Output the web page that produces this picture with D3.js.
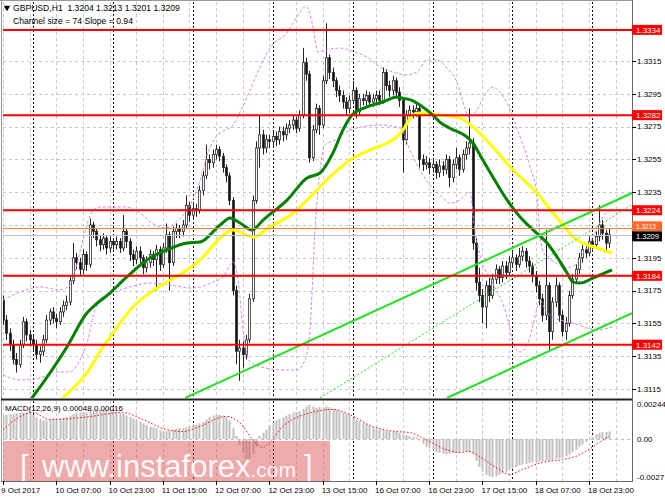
<!DOCTYPE html>
<html><head><meta charset="utf-8">
<script src="https://cdn.jsdelivr.net/npm/d3@7"></script>
<style>html,body{margin:0;padding:0;background:#fff;overflow:hidden}svg{display:block;font-family:"Liberation Sans",Arial,sans-serif}</style>
</head><body><svg id="c" width="665" height="499"></svg>
<script>
// ---------------- DATA ----------------
const symbolTitle = "GBPUSD,H1  1.3204 1.3213 1.3201 1.3209";
const channelTitle = "Channel size = 74 Slope = 0.94";
const macdTitle = "MACD(12,26,9) 0.00048 0.00016";

const opens = [1.3169,1.3157,1.3149,1.3142,1.3133,1.3130,1.3142,1.3156,1.3148,1.3145,
1.3142,1.3136,1.3138,1.3145,1.3157,1.3162,1.3158,1.3156,1.3162,1.3166,
1.3168,1.3181,1.3195,1.3192,1.3188,1.3197,1.3191,1.3215,1.3211,1.3206,
1.3203,1.3207,1.3201,1.3205,1.3203,1.3205,1.3201,1.3211,1.3205,1.3197,
1.3194,1.3199,1.3195,1.3189,1.3192,1.3197,1.3194,1.3200,1.3191,1.3201,
1.3209,1.3192,1.3211,1.3213,1.3211,1.3215,1.3227,1.3221,1.3225,1.3224,
1.3236,1.3245,1.3255,1.3253,1.3258,1.3261,1.3257,1.3250,1.3245,1.3230,
1.3175,1.3138,1.3140,1.3136,1.3145,1.3170,1.3230,1.3262,1.3270,1.3262,
1.3267,1.3266,1.3269,1.3267,1.3272,1.3270,1.3274,1.3276,1.3279,1.3274,
1.3282,1.3314,1.3307,1.3256,1.3273,1.3286,1.3276,1.3303,1.3317,1.3308,
1.3303,1.3297,1.3294,1.3290,1.3286,1.3291,1.3297,1.3284,1.3292,1.3291,
1.3294,1.3290,1.3292,1.3294,1.3291,1.3308,1.3300,1.3297,1.3303,1.3296,
1.3291,1.3267,1.3282,1.3285,1.3284,1.3286,1.3255,1.3252,1.3253,1.3250,
1.3252,1.3247,1.3251,1.3249,1.3255,1.3244,1.3252,1.3256,1.3249,1.3258,
1.3262,1.3265,1.3204,1.3180,1.3172,1.3165,1.3178,1.3172,1.3182,1.3188,
1.3183,1.3190,1.3186,1.3192,1.3195,1.3191,1.3196,1.3199,1.3193,1.3190,
1.3184,1.3178,1.3170,1.3160,1.3178,1.3150,1.3168,1.3178,1.3160,1.3150,
1.3155,1.3172,1.3182,1.3188,1.3195,1.3200,1.3198,1.3205,1.3203,1.3208,
1.3215,1.3210,1.3204];

const highs = [1.3172,1.3160,1.3152,1.3145,1.3137,1.3145,1.3159,1.3158,1.3151,1.3148,
1.3145,1.3141,1.3148,1.3160,1.3164,1.3165,1.3161,1.3165,1.3169,1.3172,
1.3184,1.3204,1.3198,1.3195,1.3200,1.3199,1.3219,1.3217,1.3213,1.3209,
1.3210,1.3209,1.3208,1.3207,1.3208,1.3207,1.3221,1.3213,1.3207,1.3200,
1.3202,1.3202,1.3197,1.3196,1.3200,1.3199,1.3203,1.3202,1.3204,1.3216,
1.3211,1.3214,1.3216,1.3215,1.3218,1.3233,1.3229,1.3228,1.3228,1.3239,
1.3248,1.3264,1.3258,1.3261,1.3264,1.3263,1.3259,1.3252,1.3247,1.3232,
1.3178,1.3145,1.3144,1.3148,1.3173,1.3233,1.3266,1.3282,1.3273,1.3270,
1.3270,1.3272,1.3272,1.3275,1.3275,1.3277,1.3279,1.3282,1.3281,1.3285,
1.3323,1.3317,1.3309,1.3276,1.3289,1.3288,1.3306,1.3338,1.3319,1.3311,
1.3305,1.3300,1.3297,1.3293,1.3294,1.3303,1.3299,1.3295,1.3295,1.3297,
1.3296,1.3295,1.3297,1.3297,1.3311,1.3310,1.3303,1.3306,1.3305,1.3299,
1.3293,1.3285,1.3288,1.3288,1.3289,1.3288,1.3258,1.3257,1.3256,1.3256,
1.3254,1.3255,1.3254,1.3258,1.3257,1.3255,1.3262,1.3258,1.3261,1.3266,
1.3286,1.3268,1.3207,1.3189,1.3176,1.3181,1.3183,1.3185,1.3191,1.3190,
1.3193,1.3193,1.3196,1.3199,1.3197,1.3201,1.3202,1.3201,1.3196,1.3192,
1.3187,1.3181,1.3173,1.3212,1.3180,1.3171,1.3183,1.3180,1.3163,1.3159,
1.3175,1.3185,1.3191,1.3198,1.3203,1.3203,1.3208,1.3207,1.3211,1.3227,
1.3218,1.3212,1.3213];

const lows = [1.3154,1.3145,1.3138,1.3130,1.3125,1.3128,1.3140,1.3144,1.3141,1.3138,
1.3133,1.3131,1.3135,1.3143,1.3154,1.3155,1.3152,1.3154,1.3159,1.3163,
1.3166,1.3179,1.3188,1.3184,1.3185,1.3187,1.3189,1.3207,1.3202,1.3199,
1.3200,1.3197,1.3198,1.3200,1.3200,1.3198,1.3199,1.3201,1.3193,1.3190,
1.3191,1.3191,1.3185,1.3186,1.3189,1.3190,1.3175,1.3187,1.3189,1.3198,
1.3175,1.3190,1.3207,1.3207,1.3208,1.3213,1.3217,1.3218,1.3220,1.3222,
1.3233,1.3243,1.3249,1.3250,1.3255,1.3254,1.3247,1.3241,1.3227,1.3172,
1.3130,1.3120,1.3128,1.3133,1.3143,1.3168,1.3228,1.3250,1.3258,1.3259,
1.3262,1.3263,1.3263,1.3264,1.3266,1.3267,1.3271,1.3273,1.3271,1.3272,
1.3280,1.3303,1.3253,1.3254,1.3271,1.3270,1.3274,1.3301,1.3304,1.3299,
1.3293,1.3290,1.3286,1.3282,1.3283,1.3289,1.3280,1.3282,1.3288,1.3288,
1.3287,1.3287,1.3289,1.3288,1.3289,1.3297,1.3293,1.3294,1.3292,1.3287,
1.3247,1.3264,1.3279,1.3280,1.3281,1.3250,1.3248,1.3249,1.3246,1.3247,
1.3243,1.3244,1.3245,1.3246,1.3238,1.3241,1.3249,1.3245,1.3247,1.3255,
1.3258,1.3200,1.3175,1.3168,1.3155,1.3152,1.3168,1.3170,1.3179,1.3179,
1.3180,1.3182,1.3184,1.3189,1.3187,1.3189,1.3193,1.3189,1.3186,1.3180,
1.3174,1.3166,1.3156,1.3157,1.3139,1.3145,1.3165,1.3156,1.3147,1.3145,
1.3153,1.3170,1.3179,1.3185,1.3192,1.3195,1.3196,1.3200,1.3201,1.3205,
1.3206,1.3198,1.3201];

const closes = [1.3157,1.3149,1.3142,1.3133,1.3130,1.3142,1.3156,1.3148,1.3145,1.3142,
1.3136,1.3138,1.3145,1.3157,1.3162,1.3158,1.3156,1.3162,1.3166,1.3168,
1.3181,1.3195,1.3192,1.3188,1.3197,1.3191,1.3215,1.3211,1.3206,1.3203,
1.3207,1.3201,1.3205,1.3203,1.3205,1.3201,1.3211,1.3205,1.3197,1.3194,
1.3199,1.3195,1.3189,1.3192,1.3197,1.3194,1.3200,1.3191,1.3201,1.3209,
1.3192,1.3211,1.3213,1.3211,1.3215,1.3227,1.3221,1.3225,1.3224,1.3236,
1.3245,1.3255,1.3253,1.3258,1.3261,1.3257,1.3250,1.3245,1.3230,1.3175,
1.3138,1.3140,1.3136,1.3145,1.3170,1.3230,1.3262,1.3270,1.3262,1.3267,
1.3266,1.3269,1.3267,1.3272,1.3270,1.3274,1.3276,1.3279,1.3274,1.3282,
1.3314,1.3307,1.3256,1.3273,1.3286,1.3276,1.3303,1.3317,1.3308,1.3303,
1.3297,1.3294,1.3290,1.3286,1.3291,1.3297,1.3284,1.3292,1.3291,1.3294,
1.3290,1.3292,1.3294,1.3291,1.3308,1.3300,1.3297,1.3303,1.3296,1.3291,
1.3267,1.3282,1.3285,1.3284,1.3286,1.3255,1.3252,1.3253,1.3250,1.3252,
1.3247,1.3251,1.3249,1.3255,1.3244,1.3252,1.3256,1.3249,1.3258,1.3262,
1.3265,1.3204,1.3180,1.3172,1.3165,1.3178,1.3172,1.3182,1.3188,1.3183,
1.3190,1.3186,1.3192,1.3195,1.3191,1.3196,1.3199,1.3193,1.3190,1.3184,
1.3178,1.3170,1.3160,1.3178,1.3150,1.3168,1.3178,1.3160,1.3150,1.3155,
1.3172,1.3182,1.3188,1.3195,1.3200,1.3198,1.3205,1.3203,1.3208,1.3215,
1.3210,1.3204,1.3209];

// moving averages / bands, as [bar index, price]
const maGreen = [[5.1,1.3100],[8.7,1.31095],[19.2,1.31406],[25.2,1.31613],[27,1.31650],[32.1,1.31735],[37.2,1.31833],[43.2,1.31937],[49.2,1.31998],[55.3,1.32040],[59.2,1.32046],[65.2,1.32150],[68.2,1.32193],[71.2,1.32162],[74.8,1.32120],[78.1,1.32180],[85.3,1.32302],[91.3,1.32437],[95.2,1.32467],[99.1,1.32590],[102.1,1.32730],[104.8,1.32821],[109.3,1.32870],[114.1,1.32900],[118.3,1.32930],[119.8,1.32924],[122.8,1.32910],[125.2,1.32882],[129.1,1.32820],[131.2,1.32778],[134.2,1.32740],[139.3,1.32687],[141.1,1.32650],[144.1,1.32546],[147.1,1.32443],[151.4,1.32302],[155.3,1.32199],[159.2,1.32120],[163.4,1.32040],[166.4,1.31955],[169.4,1.31857],[171.2,1.31802],[173.3,1.31796],[177.2,1.31827],[181.3,1.31863],[182.9,1.31876]];
const maYellow = [[14.1,1.31016],[18,1.31095],[25.2,1.31248],[30,1.31406],[33,1.31491],[39,1.31650],[44.1,1.31735],[50.2,1.31815],[55.3,1.31876],[59.2,1.31937],[65.2,1.32071],[69.1,1.32120],[75.1,1.32077],[80.2,1.32138],[88.3,1.32241],[91.3,1.32302],[98.2,1.32443],[104.2,1.32546],[110.2,1.32607],[115.3,1.32650],[118.3,1.32687],[120.1,1.32729],[123.1,1.32821],[125.2,1.32833],[131.2,1.32821],[137.2,1.32802],[141.1,1.32748],[147.1,1.32626],[153.2,1.32485],[160.4,1.32345],[165.2,1.32223],[168.2,1.32150],[171.2,1.32077],[174.2,1.32040],[178.4,1.32010],[182.9,1.31979]];
const bandUpper = [[0,1.31693],[5.1,1.31741],[11.1,1.31772],[17.1,1.31754],[20.1,1.31784],[22.5,1.31937],[24.6,1.32107],[26.7,1.32229],[29.1,1.32260],[36.6,1.32260],[41.1,1.32223],[45.6,1.32150],[48.6,1.32132],[52.6,1.32180],[56.2,1.32272],[59.2,1.32424],[61.3,1.32577],[63.7,1.32680],[66.7,1.32729],[69.1,1.32760],[71.2,1.32839],[74.2,1.32973],[77.2,1.33113],[80.8,1.33248],[84.7,1.33309],[88.3,1.33418],[91,1.33485],[92.8,1.33388],[94.6,1.33205],[96.7,1.33217],[101.2,1.33229],[105.7,1.33205],[109.3,1.33174],[113.2,1.33113],[117.1,1.33083],[121.3,1.33065],[124.3,1.33083],[127.3,1.33156],[130.3,1.33156],[133.3,1.33107],[136.3,1.33022],[138.7,1.32863],[140.2,1.32802],[142.3,1.32851],[144.7,1.32943],[147.1,1.32991],[149.2,1.32960],[151.4,1.32894],[155.3,1.32687],[158.3,1.32504],[160.4,1.32321],[161.3,1.32077],[162.8,1.31967],[165.8,1.31924],[168.8,1.31888],[171.8,1.31906],[174.8,1.31998],[177.2,1.32077],[180.2,1.32199],[182.9,1.32254]];
const bandLower = [[0,1.31235],[5.1,1.31205],[11.1,1.31217],[15.6,1.31254],[20.1,1.31254],[23.1,1.31327],[25.5,1.31449],[27.6,1.31632],[30.6,1.31705],[33.6,1.31741],[38.1,1.31772],[44.1,1.31796],[50.2,1.31784],[56.2,1.31766],[59.2,1.31772],[63.1,1.31802],[66.1,1.31833],[69.1,1.31924],[70.6,1.31815],[72.1,1.31510],[74.2,1.31315],[78.7,1.31278],[84.7,1.31266],[88.3,1.31266],[90.7,1.31327],[92.2,1.31510],[93.7,1.32120],[95.2,1.32485],[96.7,1.32638],[99.7,1.32668],[104.2,1.32729],[113.2,1.32760],[119.2,1.32741],[122.2,1.32607],[125.2,1.32485],[128.2,1.32394],[131.2,1.32333],[134.2,1.32284],[137.2,1.32302],[140.2,1.32351],[141.7,1.32120],[143.2,1.31967],[147.1,1.31796],[151.4,1.31589],[153.2,1.31430],[155.3,1.31376],[157.4,1.31418],[159.2,1.31540],[161.3,1.31693],[162.8,1.31632],[165.8,1.31583],[171.2,1.31552],[178.4,1.31510],[182.9,1.31528]];

// regression channel (start / end as [bar, price])
const channelUpper = [[54.7,1.31095],[188.9,1.32345]];
const channelMiddle = [[95.2,1.31095],[188.9,1.32273]];
const channelLower = [[133.3,1.31095],[188.9,1.31613]];

const levels = [1.3334, 1.3282, 1.3224, 1.3184, 1.3142];
const askPrice = 1.3213, bidPrice = 1.3209;
const priceTicks = [1.3115,1.3135,1.3155,1.3175,1.3195,1.3215,1.3235,1.3255,1.3275,1.3295,1.3315];

const timeLabels = ["9 Oct 2017","10 Oct 07:00","10 Oct 23:00","11 Oct 15:00","12 Oct 07:00","12 Oct 23:00","13 Oct 15:00","16 Oct 07:00","16 Oct 23:00","17 Oct 15:00","18 Oct 07:00","18 Oct 23:00"];
const timeLabelBars = [0,16,32,48,64,80,96,112,128,144,160,176];
const daySeparatorBars = [9,33,57,81,105,129,153,177];

const macdHist = [0.0015,0.00155,0.0016,0.0016,0.00165,0.0017,
0.0017,0.0017,0.00165,0.00155,
0.0014,0.0013,0.0012,0.0012,0.00125,
0.0013,0.0013,0.0013,0.00135,0.0014,
0.0015,0.0016,0.0017,0.0017,0.00175,0.0017,0.0018,0.0019,0.0019,0.00185,0.0019,0.0019,0.00185,
0.0018,0.0017,0.00165,0.0016,0.0015,0.0014,0.0013,
0.0012,0.0011,0.0010,0.0009,0.0008,0.00075,0.0007,0.00055,0.0005,0.0005,
0.00055,0.0006,0.00065,0.0007,0.0007,0.00075,
0.0008,0.00085,0.0009,0.0010,0.0011,0.00125,
0.0014,0.0015,0.00155,0.00155,0.0015,0.0014,0.0012,
0.0007,0.0002,-0.0004,-0.0009,-0.0013,-0.0013,-0.0010,-0.0005,0.0002,0.0004,0.0006,
0.0009,0.0011,0.0012,0.0013,0.0014,0.0015,
0.0016,0.0017,0.00175,0.0018,0.00195,0.0021,0.0022,
0.0021,0.0020,0.00205,0.0020,0.0021,0.00205,
0.00195,0.0019,0.0018,0.0017,0.0016,0.0015,
0.00135,0.00125,0.00115,0.00105,0.00095,0.00085,0.00075,0.00065,0.0006,
0.00055,0.0005,0.0005,0.00045,0.00045,0.0004,
0.0003,0.00025,0.0002,0.00015,0.0001,
-0.0001,-0.0003,-0.0005,-0.0006,
-0.00075,-0.00085,-0.0009,-0.00095,-0.0010,-0.00095,
-0.0009,-0.0009,-0.00085,-0.0008,-0.0008,-0.00085,-0.0010,-0.0014,
-0.0018,-0.0021,-0.0023,-0.0024,-0.00245,-0.0024,
-0.0023,-0.0022,-0.0021,-0.0020,-0.0019,-0.0018,-0.0017,
-0.00165,-0.0016,-0.00155,-0.0015,-0.0015,-0.00145,-0.00145,-0.0014,
-0.0014,-0.00135,-0.0013,-0.00125,-0.0012,-0.0011,-0.0010,
-0.00085,-0.0007,-0.0005,-0.00035,-0.0002,
0.00005,0.00015,0.0003,0.0004,0.00045,0.00045,0.00048];
const macdSignal = [[0,0.00061],[9,0.0017],[14,0.00125],[24,0.00138],[36,0.0017],[42,0.00125],[49,0.00061],[54,0.00048],[59,0.0008],[67,0.00145],[71,0.00106],[75,-0.00003],[78,-0.00055],[80,-0.00022],[84,0.0008],[89,0.00145],[94,0.00177],[99,0.0019],[104,0.00157],[111,0.0008],[118,0.00048],[122,0.00042],[127,-0.00003],[133,-0.00067],[137,-0.00087],[140,-0.0008],[143,-0.00112],[149,-0.00196],[152,-0.00228],[156,-0.00196],[162,-0.00151],[168,-0.00132],[172,-0.00112],[176,-0.00067],[179,-0.00022],[182,0.00016]];
const macdTicks = [0.00244, 0, -0.0027];
const macdTickLabels = ["0.00244", "0.00", "-0.0027"];

// ---------------- LAYOUT ----------------
const L = 3, R = 632, mainTop = 2, mainBot = 398, macdTop = 401, macdBot = 481;
const svg = d3.select('#c');
const x = d3.scaleLinear().domain([0, 188.9]).range([L, R]);
const y = d3.scaleLinear().domain([1.31095, 1.33510]).range([mainBot, mainTop]);
const ym = d3.scaleLinear().domain([-0.0027, 0.00244]).range([macdBot, macdTop]);
const px = v => Math.round(v) + 0.5;

const defs = svg.append('defs');
defs.append('clipPath').attr('id','cm').append('rect').attr('x',L).attr('y',mainTop).attr('width',R-L).attr('height',mainBot-mainTop);
defs.append('clipPath').attr('id','cd').append('rect').attr('x',L).attr('y',macdTop).attr('width',R-L).attr('height',macdBot-macdTop);

svg.append('rect').attr('width',665).attr('height',499).attr('fill','#fff');

// grid
const grid = svg.append('g');
const gridBars = d3.range(0, 189, 8);
[[mainTop,mainBot],[macdTop,macdBot]].forEach(([t,b]) => {
  grid.selectAll(null).data(gridBars).join('line')
    .attr('x1',d=>px(x(d))).attr('x2',d=>px(x(d))).attr('y1',t).attr('y2',b)
    .attr('stroke','#c8c8c8').attr('stroke-dasharray','3,3');
});
grid.selectAll(null).data(priceTicks).join('line')
  .attr('x1',L).attr('x2',R).attr('y1',d=>px(y(d))).attr('y2',d=>px(y(d)))
  .attr('stroke','#c8c8c8').attr('stroke-dasharray','3,3');
grid.append('line').attr('x1',L).attr('x2',R).attr('y1',px(ym(0))).attr('y2',px(ym(0)))
  .attr('stroke','#c0c0c0').attr('stroke-dasharray','3,3');
[[mainTop,mainBot],[macdTop,macdBot]].forEach(([t,b]) => {
  grid.selectAll(null).data(daySeparatorBars).join('line')
    .attr('x1',d=>px(x(d))).attr('x2',d=>px(x(d))).attr('y1',t).attr('y2',b)
    .attr('stroke','#111').attr('stroke-dasharray','2,2');
});

// ---- main panel
const main = svg.append('g').attr('clip-path','url(#cm)');
const bars = closes.map((c,i)=>({i, o:opens[i], h:highs[i], l:lows[i], c}));
main.selectAll('line.wick').data(bars).join('line').attr('class','wick')
  .attr('x1',d=>Math.round(x(d.i))+0.5).attr('x2',d=>Math.round(x(d.i))+0.5)
  .attr('y1',d=>y(d.h)).attr('y2',d=>y(d.l)).attr('stroke','#222').attr('stroke-width',1);
main.selectAll('rect.body').data(bars).join('rect').attr('class','body')
  .attr('x',d=>Math.round(x(d.i))-0.6).attr('width',2.2)
  .attr('y',d=>y(Math.max(d.o,d.c)))
  .attr('height',d=>Math.max(1, Math.abs(y(d.o)-y(d.c))))
  .attr('fill',d=>d.c>=d.o?'#f4f4f4':'#111')
  .attr('stroke','#333').attr('stroke-width',0.8);

const lineFn = d3.line().x(d=>x(d[0])).y(d=>y(d[1])).curve(d3.curveMonotoneX);
main.append('path').datum(bandUpper).attr('d',lineFn).attr('fill','none').attr('stroke','#c58cf0').attr('stroke-width',1).attr('stroke-dasharray','3,2');
main.append('path').datum(bandLower).attr('d',lineFn).attr('fill','none').attr('stroke','#c58cf0').attr('stroke-width',1).attr('stroke-dasharray','3,2');
main.append('path').datum(maYellow).attr('d',lineFn).attr('fill','none').attr('stroke','#ffff00').attr('stroke-width',3);
main.append('path').datum(maGreen).attr('d',lineFn).attr('fill','none').attr('stroke','#008000').attr('stroke-width',3);

const straight = d3.line().x(d=>x(d[0])).y(d=>y(d[1]));
main.append('path').datum(channelUpper).attr('d',straight).attr('stroke','#22e022').attr('stroke-width',2).attr('fill','none');
main.append('path').datum(channelLower).attr('d',straight).attr('stroke','#22e022').attr('stroke-width',2).attr('fill','none');
main.append('path').datum(channelMiddle).attr('d',straight).attr('stroke','#22e022').attr('stroke-width',1).attr('stroke-dasharray','2,2').attr('fill','none');

main.append('line').attr('x1',L).attr('x2',R).attr('y1',px(y(bidPrice))).attr('y2',px(y(bidPrice))).attr('stroke','#c0c0c0');
main.append('line').attr('x1',L).attr('x2',R).attr('y1',px(y(askPrice))).attr('y2',px(y(askPrice))).attr('stroke','#ff8040');
main.selectAll('line.lvl').data(levels).join('line').attr('class','lvl')
  .attr('x1',L).attr('x2',R).attr('y1',d=>y(d)).attr('y2',d=>y(d))
  .attr('stroke','#ff0000').attr('stroke-width',2);

// ---- MACD panel
const macd = svg.append('g').attr('clip-path','url(#cd)');
macd.selectAll('rect').data(macdHist).join('rect')
  .attr('x',(d,i)=>Math.round(x(i))-0.5).attr('width',2)
  .attr('y',d=>Math.min(ym(d),ym(0))).attr('height',d=>Math.abs(ym(d)-ym(0)))
  .attr('fill','#c0c0c0');
const sigLine = d3.line().x(d=>x(d[0])).y(d=>ym(d[1])).curve(d3.curveMonotoneX);
macd.append('path').datum(macdSignal).attr('d',sigLine).attr('fill','none')
  .attr('stroke','#ff0000').attr('stroke-width',1).attr('stroke-dasharray','1.5,2');

// watermark
const wm = svg.append('g');
wm.append('rect').attr('x',3).attr('y',441).attr('width',327).attr('height',41).attr('fill','#d84444').attr('opacity',0.45);
const wt = wm.append('text').attr('y',477).attr('fill','#fff').attr('font-size',31).attr('opacity',0.92);
wt.append('tspan').attr('x',20).text('[');
wt.append('tspan').attr('x',42).text('www.instaforex');
wt.append('tspan').attr('font-size',21).text('.com');
wt.append('tspan').attr('x',304).text(']');

// frame
const frame = svg.append('g').attr('fill','none');
frame.append('line').attr('x1',1.5).attr('x2',1.5).attr('y1',0).attr('y2',macdBot).attr('stroke','#999');
frame.append('line').attr('x1',0).attr('x2',R).attr('y1',0.5).attr('y2',0.5).attr('stroke','#999');
frame.append('line').attr('x1',R+0.5).attr('x2',R+0.5).attr('y1',0).attr('y2',macdBot+1).attr('stroke','#666');
frame.append('line').attr('x1',1).attr('x2',R).attr('y1',399.5).attr('y2',399.5).attr('stroke','#222').attr('stroke-width',2);
frame.append('line').attr('x1',1).attr('x2',R).attr('y1',macdBot+0.5).attr('y2',macdBot+0.5).attr('stroke','#666');

// axis text (labels hidden under the ask/bid tags are skipped, as in the terminal)
const ax = svg.append('g').attr('font-size',8).attr('fill','#000');
const coveredTick = p => Math.abs(y(p) - y(askPrice)) < 8;
ax.selectAll('line.pt').data(priceTicks).join('line').attr('class','pt')
  .attr('x1',R).attr('x2',R+4).attr('y1',d=>px(y(d))).attr('y2',d=>px(y(d))).attr('stroke','#000');
ax.selectAll('text.pt').data(priceTicks.filter(p=>!coveredTick(p))).join('text').attr('class','pt')
  .attr('x',637).attr('y',d=>y(d)).attr('dy','0.35em').text(d=>d3.format('.4f')(d));
ax.selectAll('text.mt').data(macdTicks).join('text').attr('class','mt')
  .attr('x',637).attr('y',(d,i)=> i===0 ? ym(d)+3 : (i===2 ? ym(d)-4 : ym(d))).attr('dy','0.35em')
  .text((d,i)=>macdTickLabels[i]);
ax.selectAll('line.tt').data(timeLabelBars).join('line').attr('class','tt')
  .attr('x1',d=>px(x(d))).attr('x2',d=>px(x(d))).attr('y1',macdBot).attr('y2',macdBot+4).attr('stroke','#000');
ax.selectAll('text.tt').data(timeLabels).join('text').attr('class','tt')
  .attr('x',(d,i)=> i===0 ? 1 : x(timeLabelBars[i]) - 1).attr('y',493).text(d=>d);

// price labels
const tags = svg.append('g');
function tag(p, bg, fg, cy, fs) {
  const c = cy === undefined ? y(p) : cy;
  tags.append('rect').attr('x',R).attr('y',c-5).attr('width',30).attr('height',10).attr('fill',bg);
  tags.append('text').attr('x',R+4).attr('y',c).attr('dy','0.35em').attr('font-size',fs||8).attr('fill',fg).text(d3.format('.4f')(p));
}
levels.forEach(p=>tag(p,'#ff0000','#fff'));
tag(askPrice,'#ff6a2a','#fff', y(askPrice)-2, 6.5);
tag(bidPrice,'#000','#fff', y(bidPrice)+1.5, 7.5);

// headers
const hd = svg.append('g').attr('fill','#000');
hd.append('path').attr('d',d3.symbol(d3.symbolTriangle).size(18)()).attr('transform','translate(7,7.5) rotate(180)');
hd.append('text').attr('x',13).attr('y',11).attr('font-size',8.6).attr('xml:space','preserve').text(symbolTitle);
hd.append('text').attr('x',13).attr('y',23.5).attr('font-size',8.6).text(channelTitle);
hd.append('text').attr('x',5).attr('y',411).attr('font-size',8).text(macdTitle);
</script>
</body></html>
